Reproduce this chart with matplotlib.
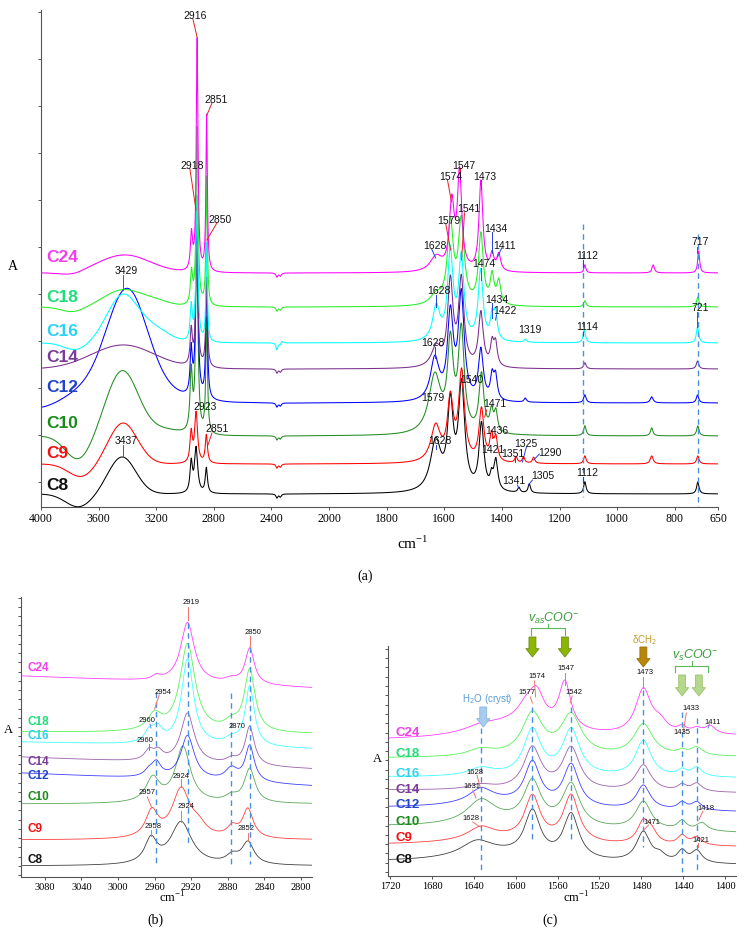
import numpy as np
import matplotlib
matplotlib.use("Agg")
import matplotlib.pyplot as plt

plt.rcParams['font.family'] = ['Liberation Sans', 'DejaVu Sans']

# ---------------------------------------------------------------- data
samples = ['C8', 'C9', 'C10', 'C12', 'C14', 'C16', 'C18', 'C24']
line_colors = ['#000000', '#FF0000', '#228B22', '#0000FF', '#7B2D8E', '#00FFFF', '#22EE22', '#FF00FF']
label_colors = ['#111111', '#F01010', '#1A8A1A', '#2244CC', '#7A3B9A', '#2BD3F0', '#1FDD77', '#F040E8']

# (a) full spectra 4000-650 cm-1: vertical offset, broad gaussian bands, lorentzian bands
a_offset = [13, 43, 71, 104, 138, 164, 200, 234]
a_broad = {
    'C8': [(3740, -13, 90), (3437, 37, 95)],
    'C9': [(3720, -13, 90), (3430, 41, 100)],
    'C10': [(3740, -24, 90), (3435, 65, 110), (3150, 6, 120)],
    'C12': [(4000, -8, 150), (3400, 90, 135), (3450, 25, 280)],
    'C14': [(3430, 24, 220)],
    'C16': [(3760, -7, 80), (3430, 48, 110), (3200, 12, 100)],
    'C18': [(3780, -5, 80), (3429, 17, 130), (3200, 5, 100)],
    'C24': [(3780, -3, 80), (3420, 18, 180)],
}
a_peaks = {
    'C8': [(2957, 30, 10), (2923, 45, 13), (2852, 25, 9),
           (1630, 50, 22), (1579, 82, 12), (1540, 104, 13), (1471, 66, 10), (1436, 12, 6),
           (1421, 30, 8), (1341, 5, 5), (1305, 9, 5), (1112, 12, 5), (720, 12, 5)],
    'C9': [(2957, 30, 10), (2923, 50, 12), (2852, 28, 9),
           (1630, 36, 20), (1579, 60, 12), (1540, 88, 12), (1471, 52, 10), (1436, 24, 7),
           (1421, 22, 7), (1351, 6, 5), (1325, 6, 5), (1290, 6, 5), (1112, 8, 5), (880, 8, 6), (720, 8, 5)],
    'C10': [(2957, 60, 10), (2918, 195, 9), (2850, 115, 7),
            (1633, 58, 25), (1579, 85, 12), (1541, 100, 12), (1471, 58, 10), (1436, 20, 7),
            (1421, 20, 7), (1112, 10, 5), (880, 8, 5), (720, 10, 5)],
    'C12': [(2957, 45, 9), (2918, 180, 9), (2850, 120, 7),
            (1633, 42, 18), (1579, 84, 12), (1541, 104, 12), (1473, 50, 10), (1434, 23, 7),
            (1422, 23, 7), (1319, 4, 5), (1112, 8, 5), (880, 6, 6), (721, 8, 5)],
    'C14': [(2957, 35, 9), (2918, 120, 9), (2850, 88, 7),
            (1628, 20, 20), (1579, 84, 11), (1541, 86, 11), (1473, 54, 10), (1434, 22, 7),
            (1422, 22, 7), (1112, 6, 5), (721, 8, 5)],
    'C16': [(2957, 35, 9), (2917, 145, 8), (2850, 98, 6), (2362, -3, 6), (2330, 3, 10),
            (1628, 34, 15), (1579, 88, 11), (1541, 82, 11), (1474, 70, 10), (1434, 23, 7),
            (1422, 26, 7), (1319, 3, 5), (1114, 13, 5), (721, 16, 5)],
    'C18': [(2955, 32, 9), (2916, 178, 8), (2850, 128, 6),
            (1628, 10, 25), (1579, 80, 12), (1541, 82, 12), (1473, 70, 10), (1434, 28, 8),
            (1411, 23, 8), (1112, 6, 5), (720, 10, 5)],
    'C24': [(2955, 36, 9), (2916, 232, 7), (2850, 156, 6),
            (1628, 15, 25), (1574, 66, 10), (1547, 96, 9), (1473, 90, 8), (1434, 16, 7),
            (1411, 17, 8), (1112, 8, 4), (875, 8, 5), (717, 22, 4)],
}
a_co2 = [(2362, -4, 8), (2338, -3, 8)]
a_label_y = [21, 53, 84, 119, 150, 176, 209, 250]
a_dashed = [(1117, 283, 10), (720, 273, 0)]
a_ticks = [4000, 3600, 3200, 2800, 2400, 2000, 1800, 1600, 1400, 1200, 1000, 800, 650]
# text, x, y, leader from (x, y) to (x, y), leader colour
a_notes = [
    ('2916', 2931, 491, 2945, 488, 2917, 470, 'r'),
    ('2851', 2786, 407, 2813, 404, 2848, 392, 'r'),
    ('2918', 2952, 341, 2966, 338, 2924, 297, 'r'),
    ('2850', 2758, 287, 2779, 284, 2848, 267, 'r'),
    ('3429', 3410, 236, 3431, 232, 3431, 217, 'r'),
    ('2923', 2862, 100, None, None, None, None, 'r'),
    ('2851', 2778, 78, 2813, 74, 2841, 62, 'r'),
    ('3437', 3410, 66, 3431, 62, 3431, 50, 'r'),
    ('1547', 1533, 341, 1547, 339, 1547, 333, 'r'),
    ('1574', 1578, 330, 1589, 327, 1575, 305, 'r'),
    ('1473', 1460, 330, 1474, 327, 1474, 318, 'r'),
    ('1541', 1516, 298, 1530, 294, 1540, 247, 'r'),
    ('1579', 1585, 286, 1595, 283, 1578, 257, 'r'),
    ('1628', 1634, 261, 1644, 258, 1630, 249, 'b'),
    ('1434', 1422, 278, 1433, 275, 1433, 254, 'b'),
    ('1411', 1391, 261, 1401, 259, 1415, 250, 'b'),
    ('1474', 1464, 243, 1474, 239, 1474, 227, 'r'),
    ('1112', 1103, 251, 1117, 247, 1117, 240, 'b'),
    ('717', 711, 265, 722, 260, 722, 254, 'r'),
    ('1628', 1620, 216, 1630, 212, 1630, 200, 'b'),
    ('1434', 1419, 207, 1433, 204, 1433, 189, 'b'),
    ('1422', 1391, 196, 1419, 192, 1422, 187, 'b'),
    ('1319', 1304, 177, None, None, None, None, 'b'),
    ('1114', 1103, 180, 1117, 175, 1117, 172, 'b'),
    ('721', 711, 199, 722, 195, 722, 180, 'r'),
    ('1628', 1641, 164, 1634, 160, 1634, 149, 'b'),
    ('1540', 1505, 127, 1540, 137, 1540, 119, 'r'),
    ('1579', 1641, 109, None, None, None, None, 'r'),
    ('1471', 1426, 103, 1453, 97, 1460, 90, 'r'),
    ('1436', 1419, 76, 1433, 73, 1433, 69, 'r'),
    ('1325', 1318, 63, 1315, 60, 1329, 45, 'b'),
    ('1351', 1363, 53, 1353, 50, 1353, 45, 'b'),
    ('1290', 1235, 54, 1270, 53, 1290, 47, 'b'),
    ('1421', 1433, 57, None, None, None, None, 'r'),
    ('1628', 1616, 66, 1630, 62, 1630, 58, 'b'),
    ('1341', 1360, 26, 1346, 22, 1342, 19, 'b'),
    ('1305', 1259, 31, 1294, 27, 1308, 22, 'b'),
    ('1112', 1103, 34, 1117, 30, 1117, 24, 'b'),
]

# (b) C-H stretching region 3106-2788 cm-1: baseline (left, right) and bands
b_base = [(11, 11), (37, 37), (73, 73), (104, 91), (120, 108), (135, 128), (145, 143), (201, 189)]
b_peaks = {
    'C8': [(2964, 24, 8), (2931, 43, 14), (2875, 8, 8), (2858, 22, 8)],
    'C9': [(2963, 26, 8), (2931, 49, 12), (2912, 10, 10), (2875, 10, 7), (2858, 29, 7)],
    'C10': [(2962, 24, 9), (2929, 56, 10), (2876, 6, 8), (2856, 34, 7)],
    'C12': [(2966, 6, 6), (2958, 14, 6), (2924, 44, 9), (2876, 12, 8), (2856, 36, 6)],
    'C14': [(2966, 10, 6), (2956, 9, 6), (2924, 50, 9), (2876, 5, 7), (2856, 39, 6)],
    'C16': [(2966, 10, 6), (2957, 14, 7), (2924, 86, 8), (2876, 6, 8), (2856, 60, 6)],
    'C18': [(2960, 16, 9), (2924, 88, 10), (2876, 8, 9), (2856, 62, 7)],
    'C24': [(2958, 4, 5), (2924, 60, 9), (2876, 4, 8), (2856, 36, 6)],
}
b_label_y = [17, 48, 80, 101, 115, 141, 155, 209]
b_dashed = [(2959, 185, 13), (2924, 254, 34), (2876, 184, 13), (2856, 230, 13)]
b_ticks = [3080, 3040, 3000, 2960, 2920, 2880, 2840, 2800]
b_notes = [
    ('2919', 2920, 274, 2924, 270, 2924, 257, 'r'),
    ('2850', 2852, 244, 2856, 241, 2856, 230, 'r'),
    ('2954', 2951, 185, 2955, 182, 2960, 168, 'r'),
    ('2960', 2968, 156, 2965, 153, 2964, 149, 'b'),
    ('2870', 2870, 150, None, None, None, None, 'r'),
    ('2960', 2971, 136, 2966, 133, 2966, 127, 'b'),
    ('2924', 2931, 101, 2931, 98, 2931, 90, 'r'),
    ('2957', 2968, 84, 2968, 80, 2963, 69, 'r'),
    ('2924', 2926, 70, 2931, 66, 2931, 55, 'r'),
    ('2958', 2962, 50, 2964, 47, 2964, 41, 'r'),
    ('2852', 2860, 48, 2858, 44, 2858, 36, 'r'),
]

# (c) carboxylate region 1722-1390 cm-1
c_base = [(14, 11), (31, 29), (49, 43), (68, 64), (86, 83), (99, 98), (118, 119), (136, 140)]
c_peaks = {
    'C8': [(1620, 8, 50), (1637, 14, 18), (1584, 45, 9), (1547, 45, 9), (1478, 30, 8),
           (1462, 6, 6), (1441, 11, 5), (1427, 12, 6)],
    'C9': [(1620, 6, 50), (1633, 12, 15), (1584, 44, 9), (1547, 47, 9), (1478, 22, 7),
           (1470, 10, 6), (1441, 9, 5), (1427, 8, 6)],
    'C10': [(1620, 6, 50), (1633, 22, 16), (1584, 42, 10), (1547, 42, 10), (1478, 28, 9),
            (1441, 9, 5), (1422, 8, 6)],
    'C12': [(1620, 6, 50), (1633, 14, 14), (1584, 42, 9), (1547, 42, 9), (1478, 24, 8),
            (1441, 7, 5), (1427, 8, 6)],
    'C14': [(1633, 5, 15), (1584, 42, 10), (1547, 42, 10), (1478, 26, 9), (1441, 6, 5), (1427, 8, 6)],
    'C16': [(1633, 8, 15), (1584, 46, 10), (1547, 46, 10), (1478, 36, 9), (1441, 6, 5), (1427, 9, 6)],
    'C18': [(1633, 7, 15), (1584, 42, 12), (1547, 40, 12), (1478, 32, 11), (1441, 4, 5), (1427, 8, 7)],
    'C24': [(1600, 14, 40), (1633, 6, 20), (1590, 14, 10), (1580, 30, 9), (1553, 47, 7),
            (1478, 45, 9), (1462, 10, 8), (1441, 6, 5), (1427, 5, 6), (1414, 8, 6)],
}
c_label_y = [16, 38, 54, 71, 86, 102, 122, 143]
c_dashed = [(1633, 148, 6), (1584, 169, 34), (1547, 169, 34), (1478, 186, 29), (1441, 164, 4), (1427, 158, 4)]
c_ticks = [1720, 1680, 1640, 1600, 1560, 1520, 1480, 1440, 1400]
c_notes = [
    ('1574', 1580, 199, 1582, 195, 1581, 179, 'r'),
    ('1547', 1551.5, 207, 1553, 203, 1553, 191, 'r'),
    ('1577', 1589, 183, 1586, 179, 1584, 173, 'r'),
    ('1542', 1544, 183, 1546, 180, 1548, 173, 'r'),
    ('1473', 1476, 203, 1478, 199, 1478, 188, 'r'),
    ('1433', 1433, 168, 1437, 163, 1440, 143, 'r'),
    ('1435', 1441, 143, None, None, None, None, 'r'),
    ('1411', 1411.5, 154, 1415, 152, 1416, 148, 'b'),
    ('1628', 1639, 104, 1637, 101, 1634, 89, 'r'),
    ('1631', 1642, 90, 1641, 86, 1638, 78, 'r'),
    ('1628', 1643, 58, 1641, 54, 1634, 49, 'r'),
    ('1418', 1418, 68, 1421, 65, 1425, 56, 'r'),
    ('1471', 1470, 54, 1473, 51, 1477.5, 46, 'r'),
    ('1421', 1423, 35, 1426, 33, 1426, 29, 'r'),
]


def lorentz(w, bands):
    y = np.zeros_like(w)
    for c, h, g in bands:
        y += h * g ** 2 / ((w - c) ** 2 + g ** 2)
    return y


def gauss(w, bands):
    y = np.zeros_like(w)
    for c, h, s in bands:
        y += h * np.exp(-(w - c) ** 2 / (2 * s ** 2))
    return y


def fwd(w):
    w = np.asarray(w, dtype=float)
    return np.where(w >= 2000, w, 2 * w - 2000)


def inv(u):
    u = np.asarray(u, dtype=float)
    return np.where(u >= 2000, u, (u + 2000) / 2)


def style_axes(ax, ticks, fs):
    for s in ('top', 'right'):
        ax.spines[s].set_visible(False)
    for s in ('left', 'bottom'):
        ax.spines[s].set_color('#555555')
        ax.spines[s].set_linewidth(0.8)
    ax.set_xticks(ticks)
    ax.set_xticklabels([str(t) for t in ticks], family='Liberation Serif', fontsize=fs)
    ax.tick_params(axis='x', length=2.5, width=0.7, color='#555555', pad=2)
    ax.tick_params(axis='y', length=2.5, width=0.7, color='#555555', labelleft=False)


def add_notes(ax, notes, fs, cols):
    for txt, xt, yt, x0, y0, x1, y1, c in notes:
        if x0 is not None:
            ax.plot([x0, x1], [y0, y1], color=cols[c], lw=0.7, clip_on=False, zorder=4)
        ax.text(xt, yt, txt, fontsize=fs, ha='center', va='center', color='#111111',
                clip_on=False, zorder=5)


fig = plt.figure(figsize=(7.46, 9.34), dpi=100)


def fx(px):
    return px / 746


def fy(py):
    return 1 - py / 934


# ---------------------------------------------------------------- (a)
axa = fig.add_axes([fx(41), fy(507), 677 / 746, 497 / 934])
axa.set_xscale('function', functions=(fwd, inv))
wa = np.linspace(650, 4000, 8000)
for i, s in enumerate(samples):
    y = a_offset[i] + gauss(wa, a_broad[s]) + lorentz(wa, a_peaks[s] + a_co2)
    axa.plot(wa, y, color=line_colors[i], lw=0.75, zorder=2 + i * 0.1)
    axa.text(3965, a_label_y[i], s, color=label_colors[i], fontsize=12.5,
             fontweight='bold', ha='left', va='center', zorder=6)
for w, y0, y1 in a_dashed:
    axa.plot([w, w], [y0, y1], color='#4A90E2', lw=1.0, ls=(0, (4, 3)), zorder=3)
add_notes(axa, a_notes, 7.5, {'r': '#E02020', 'b': '#2040E0'})
axa.set_xlim(4000, 650)
axa.set_ylim(0, 497)
axa.set_yticks(25 + 47 * np.arange(11))
style_axes(axa, a_ticks, 8.5)

fig.text(fx(13), fy(267), 'A', family='Liberation Serif', fontsize=10, ha='center', va='center')
fig.text(fx(413), fy(543), r'cm$^{\mathregular{-1}}$', family='Liberation Serif',
         fontsize=11, ha='center', va='center')
fig.text(fx(365), fy(576), '(a)', family='Liberation Serif', fontsize=10, ha='center', va='center')

# ---------------------------------------------------------------- (b)
axb = fig.add_axes([fx(21), fy(877), 291 / 746, 280 / 934])
wb = np.linspace(2788, 3106, 3000)
for i, s in enumerate(samples):
    b0, b1 = b_base[i]
    base = b0 + (b1 - b0) * (3106 - wb) / (3106 - 2788)
    axb.plot(wb, base + lorentz(wb, b_peaks[s]), color=line_colors[i], lw=0.6, alpha=0.75,
             zorder=2 + i * 0.1)
    axb.text(3099, b_label_y[i], s, color=label_colors[i], fontsize=8.5,
             fontweight='bold', ha='left', va='center', zorder=6)
for w, y0, y1 in b_dashed:
    axb.plot([w, w], [y0, y1], color='#4A90E2', lw=1.0, ls=(0, (4, 3)), zorder=3)
add_notes(axb, b_notes, 5.5, {'r': '#F07070', 'b': '#6080E0'})
axb.set_xlim(3106, 2788)
axb.set_ylim(0, 280)
axb.set_yticks(np.arange(2, 281, 9.25))
style_axes(axb, b_ticks, 7.5)

fig.text(fx(8), fy(730), 'A', family='Liberation Serif', fontsize=9, ha='center', va='center')
fig.text(fx(172), fy(898), r'cm$^{\mathregular{-1}}$', family='Liberation Serif',
         fontsize=9, ha='center', va='center')
fig.text(fx(155), fy(920), '(b)', family='Liberation Serif', fontsize=10, ha='center', va='center')

# ---------------------------------------------------------------- (c)
axc = fig.add_axes([fx(388), fy(876), 348 / 746, 276 / 934])
wc = np.linspace(1389.5, 1722, 3000)
for i, s in enumerate(samples):
    c0, c1 = c_base[i]
    base = c0 + (c1 - c0) * (1722 - wc) / (1722 - 1389.5)
    axc.plot(wc, base + lorentz(wc, c_peaks[s]), color=line_colors[i], lw=0.6, alpha=0.75,
             zorder=2 + i * 0.1)
    axc.text(1715, c_label_y[i], s, color=label_colors[i], fontsize=9.5,
             fontweight='bold', ha='left', va='center', zorder=6)
for w, y0, y1 in c_dashed:
    axc.plot([w, w], [y0, y1], color='#4A90E2', lw=1.0, ls=(0, (4, 3)), zorder=3)
add_notes(axc, c_notes, 5.5, {'r': '#F07070', 'b': '#6080E0'})


def block_arrow(ax, x, ytail, yhead, fc, ec):
    ax.annotate('', xy=(x, yhead), xytext=(x, ytail), zorder=6,
                arrowprops=dict(arrowstyle='simple,head_length=0.6,head_width=0.95,tail_width=0.5',
                                fc=fc, ec=ec, lw=0.6, shrinkA=0, shrinkB=0, mutation_scale=10))


def bracket(ax, x0, x1, y, drop, rise, color):
    ax.plot([x0, x0, x1, x1], [y - drop, y, y, y - drop], color=color, lw=0.8, zorder=6)
    xm = (x0 + x1) / 2
    ax.plot([xm, xm], [y, y + rise], color=color, lw=0.8, zorder=6)


block_arrow(axc, 1584, 239, 219, '#8DB600', '#6B8E23')
block_arrow(axc, 1553, 239, 219, '#8DB600', '#6B8E23')
bracket(axc, 1585, 1553, 248, 7, 4, '#5DB85D')
axc.text(1564, 258, r'v$_{\mathregular{as}}$COO$^{\mathregular{-}}$', color='#3C9F3C', fontsize=9,
         style='italic', ha='center', va='center')
block_arrow(axc, 1478, 229, 209, '#B8860B', '#9A7010')
axc.text(1477, 236, r'δCH$_2$', color='#C49A2C', fontsize=7, ha='center', va='center')
block_arrow(axc, 1441, 201, 180, '#B5D78E', '#9BC36E')
block_arrow(axc, 1425, 201, 180, '#B5D78E', '#9BC36E')
bracket(axc, 1447.5, 1416, 210, 6, 5, '#5DB85D')
axc.text(1428, 221, r'v$_{\mathregular{s}}$COO$^{\mathregular{-}}$', color='#3C9F3C', fontsize=9,
         style='italic', ha='center', va='center')
block_arrow(axc, 1631, 169, 149, '#A8CCEE', '#8AB4DE')
axc.text(1627, 177, r'H$_2$O (cryst)', color='#5B9BD5', fontsize=7, ha='center', va='center')

axc.set_xlim(1722, 1389.5)
axc.set_ylim(0, 276)
axc.spines['left'].set_bounds(0, 230)
axc.set_yticks(np.arange(4, 231, 9.3))
style_axes(axc, c_ticks, 7.5)

fig.text(fx(377), fy(759), 'A', family='Liberation Serif', fontsize=9, ha='center', va='center')
fig.text(fx(576), fy(898), r'cm$^{\mathregular{-1}}$', family='Liberation Serif',
         fontsize=9, ha='center', va='center')
fig.text(fx(550), fy(920), '(c)', family='Liberation Serif', fontsize=10, ha='center', va='center')

fig.savefig('out.png', dpi=100)
